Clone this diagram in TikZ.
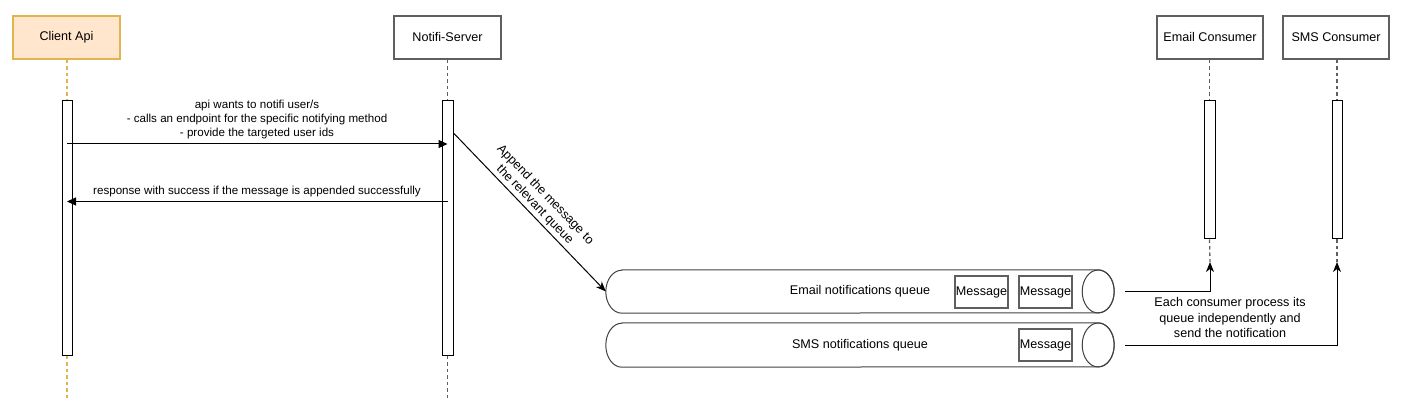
\documentclass[tikz,border=0pt]{standalone}
\usepackage{fontspec}
\setmainfont{Liberation Sans}
\usetikzlibrary{arrows.meta,calc}
\definecolor{clientfill}{HTML}{FFE6CC}
\definecolor{clientline}{HTML}{E0B550}
\definecolor{boxline}{HTML}{5F5F5F}
\tikzset{
	actor/.style={draw=boxline, line width=1.2pt, minimum width=107pt, minimum height=43pt, inner sep=0pt, font=\fontsize{12.6}{15}\selectfont},
	actbar/.style={draw=black, fill=white, line width=1pt, minimum width=10pt, inner sep=0pt},
	life/.style={draw=boxline, line width=1.3pt, dash pattern=on 3.5pt off 3pt},
	msg/.style={line width=1pt, -{Triangle[length=9pt,width=8pt]}},
	feed/.style={line width=1pt, -{Stealth[length=10pt,width=8pt,inset=3pt]}},
	qbody/.style={minimum width=508pt, minimum height=43pt, inner sep=0pt, font=\fontsize{12.6}{15}\selectfont},
	msgbox/.style={draw=boxline, line width=1.2pt, minimum width=53pt, minimum height=32pt, inner sep=0pt, font=\fontsize{12.6}{15}\selectfont},
	txt/.style={align=center, inner sep=0pt, font=\fontsize{11.6}{14}\selectfont},
}
% pipe round a queue node: #1 node, #2 half height
\def\queuepipe#1#2{
	\draw[line width=1pt, draw=black!75] ([xshift=16pt]#1.north west) -- ([xshift=-16pt]#1.north east)
		arc (90:-90:16pt and #2) -- ([xshift=16pt]#1.south west) arc (-90:-270:16pt and #2) -- cycle;
	\draw[line width=1pt, draw=black!75] ([xshift=-16pt]#1.east) ellipse (16pt and #2);
}

\begin{document}
\begin{tikzpicture}[x=1pt, y=-1pt]
			%%%%% START %%%%%
			\useasboundingbox (0, 0) rectangle (1405, 403);
			
			\node[actor, fill=clientfill, draw=clientline] (client) at (66.5, 37.5) {Client Api};
			\node[actor] (server) at (447.5, 37.5) {Notifi-Server};
			\node[actor, minimum width=106pt] (email) at (1210, 37.5) {Email Consumer};
			\node[actor, minimum width=106pt] (sms) at (1336, 37.5) {SMS Consumer};
			
			\node[actbar, minimum height=254pt] (clientbar) at (67, 228) {};
			\node[actbar, minimum height=254pt, minimum width=11pt] (serverbar) at (447.5, 228) {};
			\node[actbar, minimum height=138pt, minimum width=11pt] (emailbar) at (1209.5, 170) {};
			\node[actbar, minimum height=138pt] (smsbar) at (1337, 170) {};
			
			\coordinate (clientend) at (67, 398);
			\coordinate (serverend) at (447.5, 398);
			\coordinate (etip) at (1210, 262);
			\coordinate (stip) at (1337, 262);
			
			\draw[life, draw=clientline] (clientbar.north |- client.south) -- (clientbar.north);
			\draw[life, draw=clientline] (clientbar.south) -- (clientend);
			\draw[life] (serverbar.north |- server.south) -- (serverbar.north);
			\draw[life] (serverbar.south) -- (serverend);
			\draw[life] (emailbar.north |- email.south) -- (emailbar.north);
			\draw[life] (emailbar.south) -- (etip);
			\draw[life] (smsbar.north |- sms.south) -- (smsbar.north);
			\draw[life] (smsbar.south) -- (stip);
			
			% request and answer
			\draw[msg] (clientbar.center |- 0,144) -- (serverbar.center |- 0,144);
			\node[txt] (asklabel) at (257, 120) {api wants to notifi user/s\\- calls an endpoint for the specific notifying method\\- provide the targeted user ids};
			\draw[msg] (serverbar.center |- 0,201.5) -- (clientbar.center |- 0,201.5);
			\node[txt] (replylabel) at (257, 192) {response with success if the message is appended successfully};
			
			% queues
			\node[qbody] (emailq) at (860, 291.5) {Email notifications queue};
			\node[qbody, minimum height=44pt] (smsq) at (860, 345) {SMS notifications queue};
			\queuepipe{emailq}{21.5pt}
			\queuepipe{smsq}{22pt}
			\node[msgbox] (emsgA) at (981.5, 292) {Message};
			\node[msgbox] (emsgB) at (1045.5, 292) {Message};
			\node[msgbox] (smsg) at (1045.5, 345) {Message};
			
			\draw[feed] (serverbar.east |- 0,133) -- (emailq.west);
			\node[txt, font=\fontsize{12.6}{14.5}\selectfont, rotate=-46] (appendlabel) at (540, 200) {Append the message to\\the relevant queue};
			
			% consumers
			\draw[feed] ([xshift=11pt]emailq.east) -| (etip);
			\draw[feed] ([xshift=11pt]smsq.east) -| (stip);
			\node[txt, font=\fontsize{12.6}{15.5}\selectfont] (conslabel) at (1230, 317.5) {Each consumer process its\\queue independently and\\send the notification};
			
			%%%%% END %%%%%
\end{tikzpicture}
\end{document}
